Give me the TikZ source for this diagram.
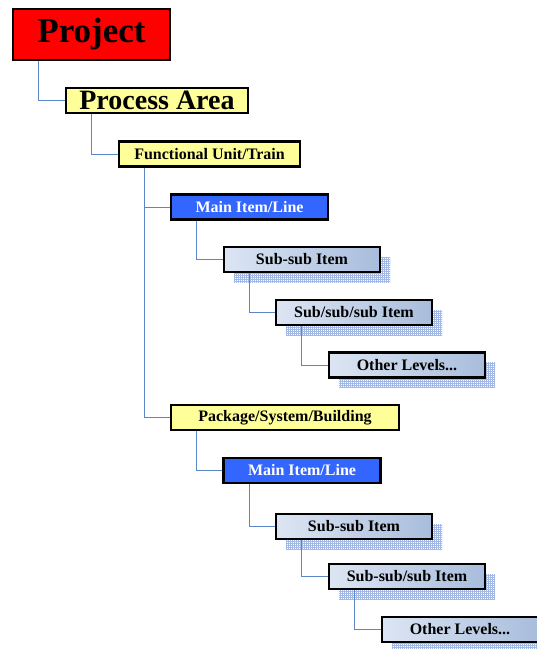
\documentclass[tikz,border=0pt]{standalone}
\usepackage{fontspec}
\setmainfont{Liberation Serif}
\usetikzlibrary{patterns,shadows}

\definecolor{projred}{HTML}{FF0000}
\definecolor{areayellow}{HTML}{FFFF99}
\definecolor{itemblue}{HTML}{3366FF}
\definecolor{gradlight}{HTML}{DCE5F3}
\definecolor{graddark}{HTML}{A8BDDC}
\definecolor{linkblue}{HTML}{5B86C8}
\definecolor{hatchblue}{HTML}{A3B9E4}

% fine grid for the hatched shadows
\pgfdeclarepatternformonly{finegrid}{\pgfqpoint{-1pt}{-1pt}}{\pgfqpoint{2pt}{2pt}}{\pgfqpoint{2pt}{2pt}}{
    \pgfsetlinewidth{0.6pt}
    \pgfpathmoveto{\pgfqpoint{0pt}{0pt}}\pgfpathlineto{\pgfqpoint{0pt}{2.01pt}}
    \pgfpathmoveto{\pgfqpoint{0pt}{0pt}}\pgfpathlineto{\pgfqpoint{2.01pt}{0pt}}
    \pgfusepath{stroke}}

\tikzset{
    box/.style={draw=black, line width=2.2pt, inner sep=0pt, minimum height=25pt,
        font=\bfseries\fontsize{16}{18}\selectfont},
    yellowbox/.style={box, fill=areayellow},
    bluebox/.style={box, fill=itemblue, text=white, minimum width=157pt},
    subbox/.style={box, left color=gradlight, right color=graddark, minimum width=156pt,
        general shadow={shadow xshift=10pt, shadow yshift=-10pt, pattern=finegrid, pattern color=hatchblue}},
    link/.style={draw=linkblue, line width=0.9pt}
}

\begin{document}
\begin{tikzpicture}[x=1pt, y=-1pt]
    \useasboundingbox (0,0) rectangle (537,649);
    % Top levels
    \node[box, fill=projred, minimum width=157pt, minimum height=51pt,
        font=\bfseries\fontsize{35}{38}\selectfont] (project) at (91.5,34.5) {Project};
    \node[yellowbox, minimum width=182pt, font=\bfseries\fontsize{28}{30}\selectfont] (area) at (157,100.5) {Process Area};
    \node[yellowbox, minimum width=181pt] (unit) at (209.5,154) {Functional Unit/Train};
    % First branch
    \node[bluebox] (main1) at (249.5,207) {Main Item/Line};
    \node[subbox] (subsub1) at (302,259.5) {Sub-sub Item};
    \node[subbox] (subsubsub1) at (354,312.5) {Sub/sub/sub Item};
    \node[subbox] (other1) at (407,365) {Other Levels...};
    % Second branch
    \node[yellowbox, minimum width=228pt] (package) at (285,417.5) {Package/System/Building};
    \node[bluebox] (main2) at (302,470.5) {Main Item/Line};
    \node[subbox] (subsub2) at (354,526.5) {Sub-sub Item};
    \node[subbox] (subsubsub2) at (407,576.5) {Sub-sub/sub Item};
    \node[subbox] (other2) at (460,629.5) {Other Levels...};
    % Connectors
    \draw[link] ([xshift=27pt]project.south west) |- (area.west);
    \draw[link] ([xshift=27pt]area.south west) |- (unit.west);
    \draw[link] ([xshift=27pt]unit.south west) |- (main1.west);
    \draw[link] ([xshift=27pt]unit.south west) |- (package.west);
    \draw[link] ([xshift=27pt]main1.south west) |- (subsub1.west);
    \draw[link] ([xshift=27pt]subsub1.south west) |- (subsubsub1.west);
    \draw[link] ([xshift=27pt]subsubsub1.south west) |- (other1.west);
    \draw[link] ([xshift=27pt]package.south west) |- (main2.west);
    \draw[link] ([xshift=27pt]main2.south west) |- (subsub2.west);
    \draw[link] ([xshift=27pt]subsub2.south west) |- (subsubsub2.west);
    \draw[link] ([xshift=27pt]subsubsub2.south west) |- (other2.west);
\end{tikzpicture}
\end{document}
